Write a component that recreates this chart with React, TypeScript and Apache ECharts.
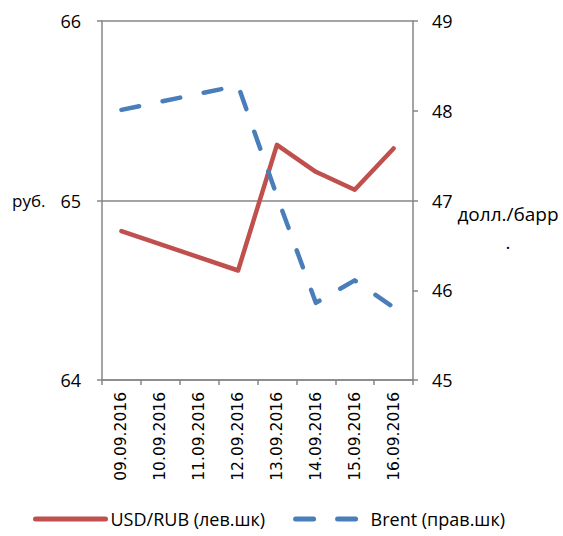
import React, { useEffect, useRef } from "react";
import * as echarts from "echarts";

const categories = [
  "09.09.2016",
  "10.09.2016",
  "11.09.2016",
  "12.09.2016",
  "13.09.2016",
  "14.09.2016",
  "15.09.2016",
  "16.09.2016",
];
const usdRub: (number | null)[] = [64.83, null, null, 64.61, 65.31, 65.16, 65.06, 65.29];
const brent: (number | null)[] = [48.01, null, null, 48.28, 47.05, 45.86, 46.11, 45.81];
const leftTicks = { min: 64, max: 66, interval: 1 };
const rightTicks = { min: 45, max: 49, interval: 1 };
const seriesNames = ["USD/RUB (лев.шк)", "Brent (прав.шк)"];
const leftUnit = "руб.";
const rightUnit = "долл./барр\n.";

const FONT = "Open Sans";
const AXIS_COLOR = "#868686";

export default function App() {
  const ref = useRef<HTMLDivElement>(null);
  useEffect(() => {
    if (!ref.current) return;
    const chart = echarts.init(ref.current, undefined, { renderer: "svg" });
    chart.setOption({
      animation: false,
      backgroundColor: "#ffffff",
      textStyle: { fontFamily: FONT },
      grid: { left: 102, right: 150, top: 21, bottom: 156, containLabel: false },
      legend: {
        top: 508,
        left: 28,
        padding: [2, 5, 2, 5],
        itemWidth: 70,
        itemHeight: 8,
        itemGap: 28,
        itemStyle: { opacity: 0 },
        lineStyle: { width: 5 },
        textStyle: { fontFamily: FONT, fontSize: 18, color: "#000" },
        data: seriesNames,
      },
      graphic: [
        {
          type: "text",
          x: 12,
          y: 200,
          style: {
            text: leftUnit,
            font: `17px '${FONT}'`,
            fill: "#000",
            textVerticalAlign: "middle",
          },
        },
        {
          type: "text",
          x: 508,
          y: 200,
          style: {
            text: rightUnit,
            font: `19px '${FONT}'`,
            fill: "#000",
            textAlign: "center",
            lineHeight: 28,
          },
        },
      ],
      xAxis: {
        type: "category",
        data: categories,
        boundaryGap: true,
        axisLine: { lineStyle: { color: AXIS_COLOR, width: 1.5 } },
        axisTick: { show: true, interval: 0, length: 5, lineStyle: { color: AXIS_COLOR, width: 1.5 } },
        axisLabel: {
          interval: 0,
          rotate: 90,
          margin: 12,
          fontFamily: "DejaVu Sans",
          fontSize: 15.5,
          color: "#000",
        },
      },
      yAxis: [
        {
          type: "value",
          min: leftTicks.min,
          max: leftTicks.max,
          interval: leftTicks.interval,
          axisLine: { show: true, lineStyle: { color: AXIS_COLOR, width: 1.5 } },
          axisTick: { show: true, length: 5, lineStyle: { color: AXIS_COLOR, width: 1.5 } },
          axisLabel: { margin: 21, fontSize: 18, color: "#000", fontFamily: FONT },
          splitLine: { show: true, lineStyle: { color: AXIS_COLOR, width: 1.5 } },
        },
        {
          type: "value",
          position: "right",
          min: rightTicks.min,
          max: rightTicks.max,
          interval: rightTicks.interval,
          axisLine: { show: true, lineStyle: { color: AXIS_COLOR, width: 1.5 } },
          axisTick: { show: true, length: 5, lineStyle: { color: AXIS_COLOR, width: 1.5 } },
          axisLabel: { margin: 19, fontSize: 18, color: "#000", fontFamily: FONT },
          splitLine: { show: false },
        },
      ],
      series: [
        {
          name: seriesNames[0],
          type: "line",
          yAxisIndex: 0,
          data: usdRub,
          connectNulls: true,
          symbol: "none",
          lineStyle: { color: "#C0504D", width: 4.5, cap: "round", join: "round" },
          itemStyle: { color: "#C0504D" },
        },
        {
          name: seriesNames[1],
          type: "line",
          yAxisIndex: 1,
          data: brent,
          connectNulls: true,
          symbol: "none",
          lineStyle: { color: "#4A7EBB", width: 4.5, type: [18, 24], cap: "round", join: "round" },
          itemStyle: { color: "#4A7EBB" },
        },
      ],
    });
    return () => chart.dispose();
  }, []);
  return (
    <div
      ref={ref}
      style={{ width: 563, height: 536, position: "absolute", left: 0, top: 0 }}
    />
  );
}
